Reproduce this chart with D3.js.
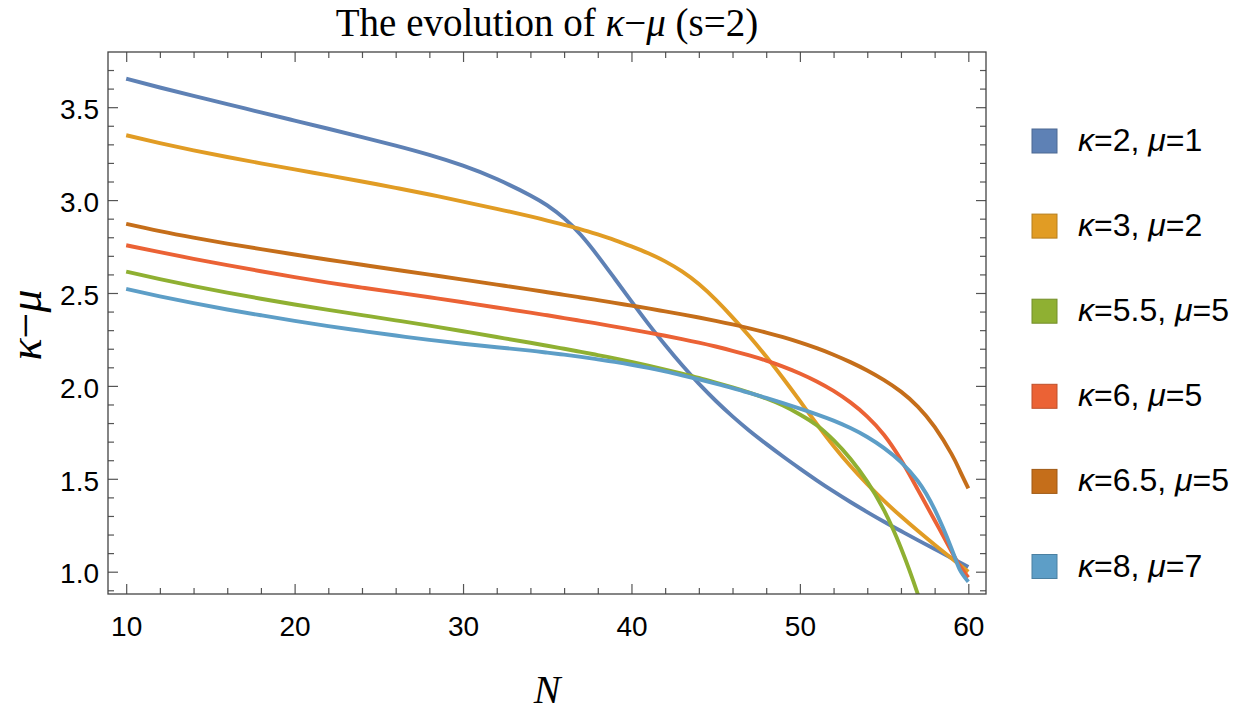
<!DOCTYPE html>
<html>
<head>
<meta charset="utf-8">
<script src="https://cdn.jsdelivr.net/npm/d3@7"></script>
<style>
    body { margin: 0; background: #fff; }
    svg text { fill: #000; }
</style>
</head>
<body>
<div id="chart"></div>
<script>
'use strict';

// sample points along N, shared by all curves
const nGrid = [10, 12, 14, 16, 18, 20, 22, 24, 26, 28, 30, 32, 34, 35, 36, 37, 38, 39, 40,
    41, 42, 43, 44, 45, 46, 47, 48, 49, 50, 51, 52, 53, 54, 55, 56, 57, 58, 59, 59.5, 60];

const k2m1 = [3.653, 3.606, 3.561, 3.517, 3.472, 3.428, 3.384, 3.339, 3.293, 3.243, 3.185, 3.113, 3.025, 2.971, 2.902, 2.812, 2.700, 2.578, 2.455,
    2.334, 2.220, 2.112, 2.012, 1.920, 1.836, 1.759, 1.688, 1.620, 1.555, 1.492, 1.432, 1.375, 1.321, 1.269, 1.219, 1.170, 1.122, 1.074, 1.050, 1.025];
const k3m2 = [3.349, 3.307, 3.268, 3.232, 3.198, 3.165, 3.133, 3.100, 3.066, 3.030, 2.992, 2.953, 2.912, 2.890, 2.867, 2.843, 2.815, 2.785, 2.751,
    2.714, 2.670, 2.616, 2.548, 2.464, 2.369, 2.267, 2.158, 2.041, 1.919, 1.795, 1.677, 1.569, 1.471, 1.381, 1.298, 1.220, 1.145, 1.072, 1.036, 1.000];
const k55m5 = [2.615, 2.575, 2.537, 2.502, 2.469, 2.438, 2.409, 2.381, 2.353, 2.324, 2.294, 2.263, 2.232, 2.216, 2.200, 2.183, 2.166, 2.148, 2.129,
    2.109, 2.088, 2.066, 2.043, 2.018, 1.992, 1.964, 1.932, 1.894, 1.846, 1.788, 1.708, 1.608, 1.485, 1.330, 1.128, 0.880, 0.600, null, null, null];
const k6m5 = [2.757, 2.720, 2.684, 2.650, 2.617, 2.585, 2.556, 2.529, 2.503, 2.477, 2.450, 2.422, 2.394, 2.380, 2.365, 2.350, 2.335, 2.319, 2.303,
    2.287, 2.270, 2.252, 2.233, 2.212, 2.189, 2.164, 2.136, 2.104, 2.067, 2.024, 1.973, 1.911, 1.835, 1.736, 1.602, 1.442, 1.277, 1.110, 1.030, 0.969];
const k65m5 = [2.872, 2.833, 2.798, 2.766, 2.736, 2.707, 2.679, 2.652, 2.625, 2.599, 2.572, 2.545, 2.518, 2.504, 2.490, 2.476, 2.462, 2.447, 2.432,
    2.417, 2.401, 2.385, 2.368, 2.350, 2.331, 2.310, 2.287, 2.262, 2.234, 2.203, 2.168, 2.128, 2.083, 2.031, 1.969, 1.889, 1.779, 1.634, 1.543, 1.449];
const k8m7 = [2.522, 2.482, 2.445, 2.411, 2.380, 2.350, 2.322, 2.296, 2.271, 2.248, 2.227, 2.208, 2.190, 2.179, 2.168, 2.156, 2.143, 2.129, 2.114,
    2.097, 2.078, 2.057, 2.035, 2.012, 1.988, 1.962, 1.935, 1.907, 1.878, 1.847, 1.813, 1.773, 1.725, 1.665, 1.590, 1.488, 1.335, 1.125, 1.010, 0.946];

const kappas = ['2', '3', '5.5', '6', '6.5', '8'];
const mus = ['1', '2', '5', '5', '5', '7'];
const seriesValues = [k2m1, k3m2, k55m5, k6m5, k65m5, k8m7];
const colors = ['#5E81B5', '#E19C24', '#8FB032', '#EB6235', '#C56E1A', '#5D9EC7'];

const xTicks = [10, 20, 30, 40, 50, 60];
const yTicks = [1.0, 1.5, 2.0, 2.5, 3.0, 3.5];

const width = 1253, height = 713;
const frame = {left: 108, top: 52, right: 986, bottom: 594};

const svg = d3.select('#chart').append('svg')
    .attr('width', width)
    .attr('height', height)
    .attr('viewBox', [0, 0, width, height]);

const x = d3.scaleLinear()
    .domain([8.92, 61.05])
    .range([frame.left, frame.right]);
const y = d3.scaleLinear()
    .domain([0.88, 3.797])
    .range([frame.bottom, frame.top]);

const xMinor = d3.range(12, 60, 2).filter(d => d % 10 !== 0);
const yMinor = d3.range(9, 38).map(d => d / 10).filter(d => d % 0.5 > 0.01 && d % 0.5 < 0.49);

svg.append('defs').append('clipPath')
    .attr('id', 'plotclip')
    .append('rect')
        .attr('x', frame.left)
        .attr('y', frame.top)
        .attr('width', frame.right - frame.left)
        .attr('height', frame.bottom - frame.top);

// curves
const line = d3.line()
    .defined(d => d.v !== null)
    .x(d => x(d.n))
    .y(d => y(d.v))
    .curve(d3.curveNatural);

svg.append('g')
    .attr('clip-path', 'url(#plotclip)')
    .selectAll('path')
    .data(seriesValues.map(vals => nGrid.map((n, i) => ({n: n, v: vals[i]}))))
    .join('path')
        .attr('fill', 'none')
        .attr('stroke', (d, i) => colors[i])
        .attr('stroke-width', 3.9)
        .attr('stroke-linejoin', 'round')
        .attr('d', line);

// frame ticks, all pointing inward
function styleAxis(g) {
    g.select('.domain').remove();
    g.selectAll('.tick line').attr('stroke', '#555').attr('stroke-width', 1.2);
    g.selectAll('.tick text')
        .attr('font-family', '"Liberation Sans", Arial, sans-serif')
        .attr('font-size', 28)
        .attr('fill', '#000');
}

svg.append('g')
    .attr('transform', `translate(0, ${frame.bottom})`)
    .call(d3.axisBottom(x).tickValues(xTicks).tickSize(-10).tickPadding(22).tickFormat(d3.format('d')))
    .call(styleAxis);
svg.append('g')
    .attr('transform', `translate(0, ${frame.bottom})`)
    .call(d3.axisBottom(x).tickValues(xMinor).tickSize(-6).tickFormat(''))
    .call(styleAxis);
svg.append('g')
    .attr('transform', `translate(0, ${frame.top})`)
    .call(d3.axisTop(x).tickValues(xTicks).tickSize(-10).tickFormat(''))
    .call(styleAxis);
svg.append('g')
    .attr('transform', `translate(0, ${frame.top})`)
    .call(d3.axisTop(x).tickValues(xMinor).tickSize(-6).tickFormat(''))
    .call(styleAxis);

svg.append('g')
    .attr('transform', `translate(${frame.left}, 0)`)
    .call(d3.axisLeft(y).tickValues(yTicks).tickSize(-10).tickPadding(9).tickFormat(d3.format('.1f')))
    .call(styleAxis)
    .call(g => g.selectAll('.tick text').attr('dy', '0.4em'));
svg.append('g')
    .attr('transform', `translate(${frame.left}, 0)`)
    .call(d3.axisLeft(y).tickValues(yMinor).tickSize(-6).tickFormat(''))
    .call(styleAxis);
svg.append('g')
    .attr('transform', `translate(${frame.right}, 0)`)
    .call(d3.axisRight(y).tickValues(yTicks).tickSize(-10).tickFormat(''))
    .call(styleAxis);
svg.append('g')
    .attr('transform', `translate(${frame.right}, 0)`)
    .call(d3.axisRight(y).tickValues(yMinor).tickSize(-6).tickFormat(''))
    .call(styleAxis);

svg.append('rect')
    .attr('x', frame.left)
    .attr('y', frame.top)
    .attr('width', frame.right - frame.left)
    .attr('height', frame.bottom - frame.top)
    .attr('fill', 'none')
    .attr('stroke', '#444')
    .attr('stroke-width', 1.3);

// title and axis labels
const serif = '"Liberation Serif", "Times New Roman", serif';
const title = svg.append('text')
    .attr('x', (frame.left + frame.right) / 2)
    .attr('y', 36)
    .attr('text-anchor', 'middle')
    .attr('font-family', serif)
    .attr('font-size', 39);
title.append('tspan').text('The evolution of ');
title.append('tspan').attr('font-style', 'italic').text('κ');
title.append('tspan').text('−');
title.append('tspan').attr('font-style', 'italic').text('μ');
title.append('tspan').text(' (s=2)');

svg.append('text')
    .attr('x', (frame.left + frame.right) / 2)
    .attr('y', 703)
    .attr('text-anchor', 'middle')
    .attr('font-family', serif)
    .attr('font-style', 'italic')
    .attr('font-size', 40)
    .text('N');

const ylab = svg.append('text')
    .attr('transform', `translate(41, ${(frame.top + frame.bottom) / 2 + 2}) rotate(-90)`)
    .attr('text-anchor', 'middle')
    .attr('font-family', serif)
    .attr('font-size', 46);
ylab.append('tspan').attr('font-style', 'italic').text('κ');
ylab.append('tspan').text('−');
ylab.append('tspan').attr('font-style', 'italic').text('μ');

// legend
const legend = svg.append('g')
    .selectAll('g')
    .data(kappas)
    .join('g')
        .attr('transform', (d, i) => `translate(1032, ${141 + i * 85.1})`);

legend.append('rect')
    .attr('x', 0)
    .attr('y', -12)
    .attr('width', 25)
    .attr('height', 24)
    .attr('fill', (d, i) => colors[i])
    .attr('stroke', (d, i) => d3.color(colors[i]).darker(0.6))
    .attr('stroke-width', 1);

const legendText = legend.append('text')
    .attr('x', 46)
    .attr('y', 10)
    .attr('font-family', '"Liberation Sans", Arial, sans-serif')
    .attr('font-size', 32);
legendText.append('tspan').attr('font-style', 'italic').text('κ');
legendText.append('tspan').text(d => '=' + d + ', ');
legendText.append('tspan').attr('font-style', 'italic').text('μ');
legendText.append('tspan').text((d, i) => '=' + mus[i]);
</script>
</body>
</html>
